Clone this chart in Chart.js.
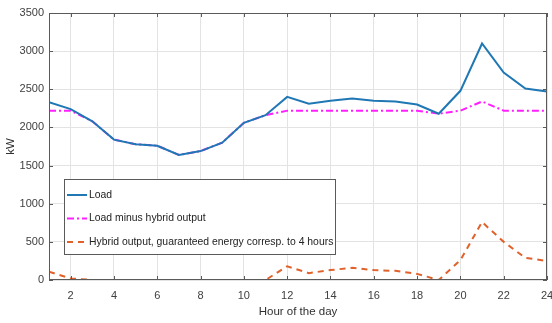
<!DOCTYPE html>
<html>
<head>
<meta charset="utf-8">
<script src="https://cdn.jsdelivr.net/npm/chart.js@4.4.1/dist/chart.umd.min.js"></script>
<style>
  html, body { margin: 0; padding: 0; background: #fff; }
  #wrap { width: 552px; height: 323px; position: relative; }
</style>
</head>
<body>
<div id="wrap"><canvas id="chart"></canvas></div>
<script>
// hourly values
const hours = [1, 2, 3, 4, 5, 6, 7, 8, 9, 10, 11, 12, 13, 14, 15, 16, 17, 18, 19, 20, 21, 22, 23, 24];
const loadKw = [2330, 2240, 2080, 1840, 1780, 1760, 1640, 1690, 1800, 2060, 2160, 2400,
                2310, 2350, 2380, 2350, 2340, 2300, 2180, 2480, 3100, 2720, 2510, 2470];
const netKw = [2220, 2220, 2080, 1840, 1780, 1760, 1640, 1690, 1800, 2060, 2160, 2220,
               2220, 2220, 2220, 2220, 2220, 2220, 2180, 2220, 2340, 2220, 2220, 2220];
const hybridKw = [110, 20, 0, 0, 0, 0, 0, 0, 0, 0, 0, 180,
                  90, 130, 160, 130, 120, 80, 0, 260, 760, 500, 290, 250];
const xTicks = [2, 4, 6, 8, 10, 12, 14, 16, 18, 20, 22, 24];
const yTicks = [0, 500, 1000, 1500, 2000, 2500, 3000, 3500];
const seriesLabels = ['Load', 'Load minus hybrid output', 'Hybrid output, guaranteed energy corresp. to 4 hours'];

const FONT = 'Liberation Sans, Arial, sans-serif';
const TXT = '#404040';
const GRID = '#e3e3e3';
const AXIS = '#5a5a5a';

const toPoints = vals => hours.map((h, i) => ({ x: h, y: vals[i] }));

// MATLAB style box: frame plus inward tick marks on all four sides
const boxPlugin = {
  id: 'box',
  afterDatasetsDraw(chart) {
    const { ctx, chartArea: a, scales } = chart;
    ctx.save();
    ctx.strokeStyle = AXIS;
    ctx.lineWidth = 1;
    ctx.strokeRect(a.left + 0.5, a.top + 0.5, a.right - a.left - 1, a.bottom - a.top - 1);
    ctx.beginPath();
    xTicks.forEach(v => {
      const px = Math.round(scales.x.getPixelForValue(v)) + 0.5;
      ctx.moveTo(px, a.bottom); ctx.lineTo(px, a.bottom - 4);
      ctx.moveTo(px, a.top); ctx.lineTo(px, a.top + 4);
    });
    yTicks.forEach(v => {
      const py = Math.round(scales.y.getPixelForValue(v)) + 0.5;
      ctx.moveTo(a.left, py); ctx.lineTo(a.left + 4, py);
      ctx.moveTo(a.right, py); ctx.lineTo(a.right - 4, py);
    });
    ctx.stroke();
    ctx.restore();
  }
};

// legend box drawn inside the plot, lower left
const legendPlugin = {
  id: 'boxLegend',
  afterDraw(chart) {
    const { ctx, chartArea: a } = chart;
    const x0 = a.left + 15, y0 = a.top + 166, w = 271, h = 75;
    ctx.save();
    ctx.fillStyle = '#fff';
    ctx.fillRect(x0, y0, w, h);
    ctx.strokeStyle = AXIS;
    ctx.lineWidth = 1;
    ctx.strokeRect(x0 + 0.5, y0 + 0.5, w, h);
    ctx.font = '10.4px ' + FONT;
    ctx.textBaseline = 'middle';
    chart.data.datasets.forEach((ds, i) => {
      const yy = y0 + 16 + i * 23.5;
      ctx.strokeStyle = ds.borderColor;
      ctx.lineWidth = ds.borderWidth;
      ctx.setLineDash(ds.borderDash || []);
      ctx.beginPath();
      ctx.moveTo(x0 + 3, yy); ctx.lineTo(x0 + 23, yy);
      ctx.stroke();
      ctx.setLineDash([]);
      ctx.fillStyle = '#222';
      ctx.fillText(ds.label, x0 + 25, yy);
    });
    ctx.restore();
  }
};

new Chart(document.getElementById('chart'), {
  type: 'line',
  data: {
    datasets: [
      { label: seriesLabels[0], data: toPoints(loadKw), borderColor: '#1f77b4', borderWidth: 2 },
      { label: seriesLabels[1], data: toPoints(netKw), borderColor: '#ff1fff', borderWidth: 2, borderDash: [7, 3, 2, 3] },
      { label: seriesLabels[2], data: toPoints(hybridKw), borderColor: '#e0622a', borderWidth: 2, borderDash: [6, 5] }
    ]
  },
  options: {
    responsive: true,
    maintainAspectRatio: false,
    animation: false,
    layout: { padding: { top: 13, right: 5, left: 0, bottom: 0 } },
    elements: { point: { radius: 0 }, line: { tension: 0 } },
    plugins: { legend: { display: false }, tooltip: { enabled: false } },
    scales: {
      x: {
        type: 'linear',
        min: 1,
        max: 24,
        afterBuildTicks: s => { s.ticks = xTicks.map(v => ({ value: v })); },
        afterFit: s => { s.height = 43; s.paddingRight = 0; s.paddingLeft = 0; },
        grid: { color: GRID, drawTicks: false },
        border: { display: false },
        ticks: { color: TXT, font: { family: FONT, size: 11 }, padding: 9, maxRotation: 0, callback: v => String(v) },
        title: { display: true, text: 'Hour of the day', color: '#303030', font: { family: FONT, size: 11.5 }, padding: { top: 4 } }
      },
      y: {
        min: 0,
        max: 3500,
        afterBuildTicks: s => { s.ticks = yTicks.map(v => ({ value: v })); },
        afterFit: s => { s.width = 49; s.paddingTop = 0; s.paddingBottom = 0; },
        grid: { color: GRID, drawTicks: false },
        border: { display: false },
        ticks: { color: TXT, font: { family: FONT, size: 11 }, padding: 5, callback: v => String(v) },
        title: { display: true, text: 'kW', color: '#303030', font: { family: FONT, size: 11.5 }, padding: { bottom: 0 } }
      }
    }
  },
  plugins: [boxPlugin, legendPlugin]
});
</script>
</body>
</html>
